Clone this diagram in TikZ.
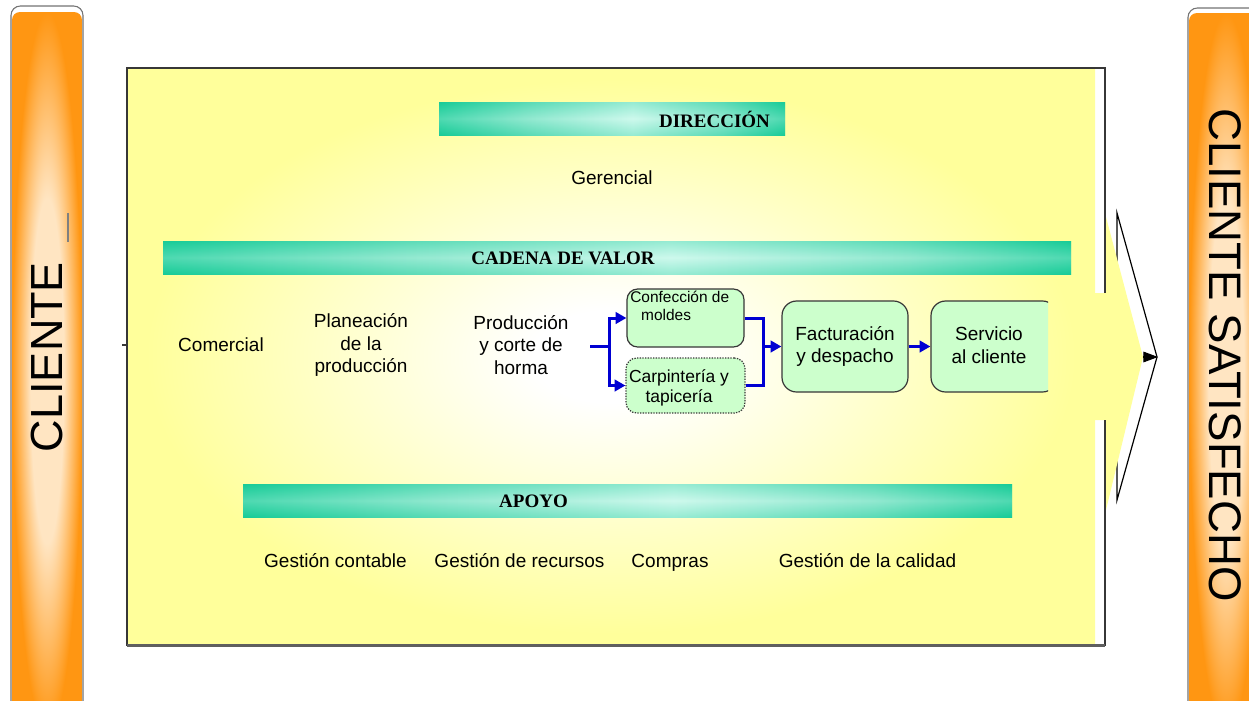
\documentclass[tikz,border=0pt]{standalone}
\usepackage{fontspec}
\setmainfont{Liberation Sans}
\newfontfamily\hdrfont{Liberation Serif}
\usetikzlibrary{arrows.meta}

\definecolor{bgyellow}{RGB}{255,255,155}
\definecolor{tealdark}{RGB}{24,204,152}
\definecolor{tealmid}{RGB}{120,226,196}
\definecolor{teallight}{RGB}{206,249,237}
\definecolor{orangedark}{RGB}{255,150,18}
\definecolor{orangelight}{RGB}{255,229,194}
\definecolor{boxgreen}{RGB}{204,255,204}
\definecolor{flowblue}{RGB}{0,0,210}
\definecolor{framegray}{RGB}{55,55,55}

% soft white glow in the middle of the process panel
\pgfdeclareradialshading{panelglow}{\pgfpoint{0bp}{0bp}}{%
  color(0bp)=(white); color(4bp)=(white); color(24bp)=(bgyellow); color(50bp)=(bgyellow)}
% side bars: orange rim, pale centre
\pgfdeclareradialshading{orangeglow}{\pgfpoint{0bp}{0bp}}{%
  color(0bp)=(orangelight); color(12bp)=(orangelight); color(25bp)=(orangedark); color(50bp)=(orangedark)}
% section headers: teal tube with a light band
\pgfdeclarehorizontalshading{tealtube}{100bp}{%
  color(0bp)=(tealdark); color(25bp)=(tealdark); color(38bp)=(tealmid);
  color(53bp)=(teallight); color(66bp)=(tealmid); color(75bp)=(tealdark); color(100bp)=(tealdark)}

\tikzset{
  txt/.style={font=\fontsize{14.25}{16.9}\selectfont, align=center, inner sep=0pt},
  basetxt/.style={font=\fontsize{14.25}{16.9}\selectfont, inner sep=0pt, anchor=base},
  hdrtxt/.style={font=\hdrfont\bfseries\fontsize{14.25}{16}\selectfont, inner sep=0pt},
  hdrbar/.style={shading=tealtube, inner sep=0pt, minimum height=24.75pt},
  hdrgloss/.style={top color=tealdark, bottom color=tealdark, middle color=teallight, fill opacity=0.3, inner sep=0pt, minimum height=24.75pt},
  sidebar/.style={shading=orangeglow, rounded corners=6pt},
  sideframe/.style={draw=framegray!70, line width=0.8pt, fill=white, rounded corners=7pt},
  flowbox/.style={draw=framegray, line width=0.9pt, fill=boxgreen, rounded corners=8pt, inner sep=0pt},
  flow/.style={draw=flowblue, line width=2.25pt},
  flowarrow/.style={flow, -{Triangle[length=8pt,width=8.5pt]}},
}

\begin{document}
\begin{tikzpicture}[x=0.75pt,y=-0.75pt]
\useasboundingbox (0,0) rectangle (1249,700);

% ---- side bars ----
\path[sideframe] (11,6) rectangle (83,730);
\path[sidebar] (12,12) rectangle (82,730);
\node[rotate=90, inner sep=0pt, font=\fontsize{33.75}{36}\selectfont] (cli) at (47,357) {CLIENTE};
\draw[gray, line width=1pt] (68,213) -- (68,242);

\path[sideframe] (1188,8) rectangle (1264,730);
\path[sidebar] (1189,13) rectangle (1263,730);
\node[rotate=-90, inner sep=0pt, font=\fontsize{34.2}{36}\selectfont] (clisat) at (1225,355) {CLIENTE SATISFECHO};

% ---- process panel ----
\path[shading=panelglow] (127,68) rectangle (1095,645);

% exit arrow towards the satisfied customer
\path[draw=black, line width=0.9pt, fill=white] (1117,213) -- (1157,357) -- (1117,500) -- cycle;
\path[fill=bgyellow] (1093,293) -- (1106,293) -- (1106,217) -- (1143,357) -- (1106,510) -- (1106,420) -- (1093,420) -- cycle;
\draw[framegray, line width=1.2pt] (1105,293) -- (1105,68) -- (127,68) -- (127,645) -- (1105,645) -- (1105,420);
\draw[framegray!80, line width=1.8pt] (127,645.5) -- (1105,645.5);
\coordinate (outA) at (1143,357);
\coordinate (outB) at (1158,357);
\draw[line width=0.8pt, -{Triangle[length=11pt,width=8pt]}] (outA) -- (outB);
\coordinate (inA) at (122,345);
\coordinate (inB) at (127,345);
\draw[framegray, line width=0.8pt] (inA) -- (inB);

% ---- DIRECCION ----
\node[hdrbar, minimum width=259.5pt] (dirbar) at (612,118.5) {};
\node[hdrgloss, minimum width=259.5pt] at (dirbar) {};
\node[hdrtxt] (dirtxt) at (714.5,119.5) {DIRECCIÓN};
\node[basetxt] (ger) at (612,184) {Gerencial};

% ---- CADENA DE VALOR ----
\node[hdrbar, minimum width=681pt] (cadbar) at (617,257.5) {};
\node[hdrgloss, minimum width=681pt] at (cadbar) {};
\node[hdrtxt] (cadtxt) at (563,258) {CADENA DE VALOR};

\node[txt] (com) at (221,345) {Comercial};
\node[txt] (plan) at (361,345) {Planeación\\de la\\producción};
\node[txt] (prod) at (521,345) {Producción\\y corte de\\horma};

\node[flowbox, minimum width=87.75pt, minimum height=43.5pt] (conf) at (685.5,318) {};
\node[inner sep=0pt, align=left, anchor=west, font=\fontsize{11.6}{13.5}\selectfont] (conftxt) at (630,306) {Confección de\\\hspace*{8.2pt}moldes};

\node[flowbox, dash pattern=on 1pt off 1pt, minimum width=89.25pt, minimum height=41.25pt] (carp) at (685.5,385.5) {};
\node[inner sep=0pt, align=center, font=\fontsize{13.1}{15}\selectfont] (carptxt) at (679,388) {Carpintería y\\tapicería};

\node[flowbox, rounded corners=11pt, minimum width=94.5pt, minimum height=68.25pt, txt] (fact) at (845,346.5) {Facturación\\y despacho};

\begin{scope}
  \clip (920,280) rectangle (1048,410);
  \node[flowbox, rounded corners=11pt, minimum width=94.5pt, minimum height=68.25pt, txt] (serv) at (994,346.5) {};
\end{scope}
\node[txt] (servtxt) at (989,345) {Servicio\\al cliente};

% blue flow between the production steps
\coordinate (s0) at (590,346.5);
\coordinate (split) at (609,346.5);
\coordinate (merge) at (763,346.5);
\draw[flow] (s0) -- (split);
\draw[flowarrow] (split) |- (conf.west);
\draw[flowarrow] (split) |- (carp.west);
\draw[flow] (conf.east) -| (merge);
\draw[flow] (carp.east) -| (merge);
\draw[flowarrow] (merge) -- (fact.west);
\draw[flowarrow] (fact.east) -- (serv.west);

% ---- APOYO ----
\node[hdrbar, minimum width=576.75pt] (apobar) at (627.5,500.5) {};
\node[hdrgloss, minimum width=576.75pt] at (apobar) {};
\node[hdrtxt] (apotxt) at (533.5,501) {APOYO};

\node[basetxt] (gcont) at (335.5,567) {Gestión contable};
\node[basetxt] (grec) at (519.5,567) {Gestión de recursos};
\node[basetxt] (comp) at (670,567) {Compras};
\node[basetxt] (gcal) at (867.5,567) {Gestión de la calidad};
\end{tikzpicture}
\end{document}
